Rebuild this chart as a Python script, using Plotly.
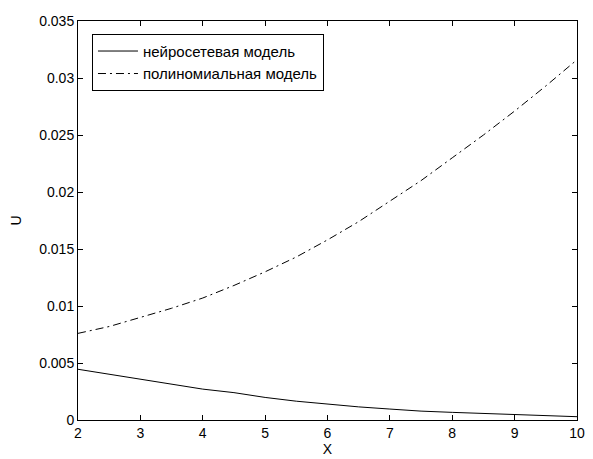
import plotly.graph_objects as go

x_vals = [2, 2.5, 3, 3.5, 4, 4.5, 5, 5.5, 6, 6.5, 7, 7.5, 8, 8.5, 9, 9.5, 10]
neural = [0.00445, 0.0040, 0.00358, 0.0031, 0.00271, 0.0024, 0.00198, 0.00165, 0.00138,
          0.00115, 0.00096, 0.00078, 0.00067, 0.00056, 0.00046, 0.00037, 0.00029]
poly = [0.0076, 0.0082, 0.0090, 0.0098, 0.0107, 0.0118, 0.0130, 0.0143, 0.0158,
        0.0174, 0.0192, 0.0210, 0.0230, 0.0250, 0.0271, 0.0293, 0.0316]

series_names = ["нейросетевая модель", "полиномиальная модель"]
x_ticks = [2, 3, 4, 5, 6, 7, 8, 9, 10]
y_ticks = [0, 0.005, 0.01, 0.015, 0.02, 0.025, 0.03, 0.035]
y_tick_labels = ["0", "0.005", "0.01", "0.015", "0.02", "0.025", "0.03", "0.035"]
x_title = "X"
y_title = "U"

FONT = "Liberation Sans, Arial, Helvetica, sans-serif"

fig = go.Figure()
fig.add_trace(go.Scatter(x=x_vals, y=neural, mode="lines", name=series_names[0],
                         legendgroup="a",
                         line=dict(color="black", width=1)))
fig.add_trace(go.Scatter(x=x_vals, y=poly, mode="lines", name=series_names[1],
                         legendgroup="b",
                         line=dict(color="black", width=1, dash="8px,4px,2px,4px")))

axis_common = dict(
    showline=True, linecolor="black", linewidth=1, mirror="ticks",
    ticks="inside", ticklen=5, tickcolor="black", tickwidth=1,
    showgrid=False, zeroline=False,
    tickfont=dict(family=FONT, size=14, color="black"),
)

fig.update_xaxes(range=[2, 10], tickvals=x_ticks, ticktext=[str(v) for v in x_ticks],
                 title=dict(text=x_title, font=dict(family=FONT, size=14, color="black"), standoff=0),
                 **axis_common)
fig.update_yaxes(range=[0, 0.035], tickvals=y_ticks, ticktext=y_tick_labels,
                 title=dict(text=y_title, font=dict(family=FONT, size=14, color="black"), standoff=14),
                 **axis_common)

fig.update_layout(
    width=593, height=459,
    margin=dict(l=78, r=8, t=21, b=38),
    paper_bgcolor="white", plot_bgcolor="white",
    font=dict(family=FONT, size=14, color="black"),
    legend=dict(x=0.028, y=0.968, xanchor="left", yanchor="top",
                bgcolor="white", bordercolor="black", borderwidth=1,
                font=dict(family=FONT, size=15, color="black"),
                itemwidth=40, entrywidth=248, entrywidthmode="pixels",
                traceorder="grouped", tracegroupgap=0),
    showlegend=True,
)

fig.write_html("out.html")
